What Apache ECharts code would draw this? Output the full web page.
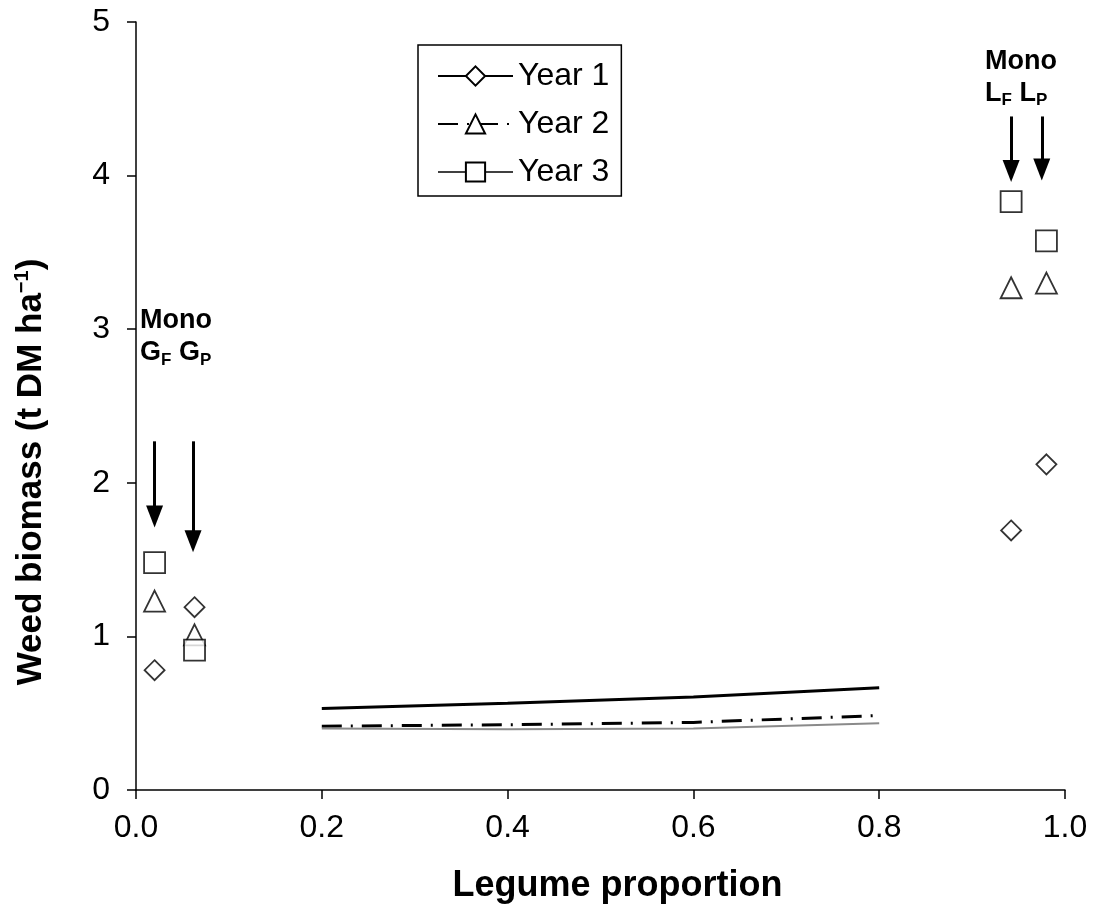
<!DOCTYPE html>
<html>
<head>
<meta charset="utf-8">
<script src="https://cdn.jsdelivr.net/npm/echarts@6/dist/echarts.min.js"></script>
<style>
  html, body { margin: 0; padding: 0; background: #fff; }
  #chart { width: 1094px; height: 909px; }
</style>
</head>
<body>
<div id="chart"></div>
<script>
const FONT = "'Liberation Sans', Arial, sans-serif";

// monoculture plots (x = legume proportion)
const monoX = [0.02, 0.063, 0.942, 0.98];
const year1Mono = [0.78, 1.19, 1.69, 2.12];
const year2Mono = [1.23, 1.01, 3.27, 3.30];
const year3Mono = [1.48, 0.91, 3.83, 3.575];

// fitted response over the mixtures
const curveX = [0.2, 0.4, 0.6, 0.8];
const year1Curve = [0.53, 0.565, 0.605, 0.665];
const year2Curve = [0.415, 0.425, 0.44, 0.485];
const year3Curve = [0.4, 0.395, 0.4, 0.435];

const xTicks = [0, 0.2, 0.4, 0.6, 0.8, 1.0];
const yTicks = [0, 1, 2, 3, 4, 5];

// arrows: [x, top, end of shaft]
const arrows = [
  [0.02, 2.27, 1.78],
  [0.0614, 2.27, 1.62],
  [0.942, 4.385, 4.03],
  [0.975, 4.385, 4.04],
];

// labels: [left x, centre y, letter, subscript 1, subscript 2]
const monoLabels = [
  [0.0043, 2.95, "G", "F", "P"],
  [0.914, 4.64, "L", "F", "P"],
];

const pairs = (xs, ys) => xs.map((x, i) => [x, ys[i]]);

const chart = echarts.init(document.getElementById("chart"), undefined, { renderer: "canvas" });

const hollow = { color: "#fff", borderColor: "#000", borderWidth: 1.8 };

function curveSeries(name, values, symbol, lineStyle) {
  return {
    name,
    type: "line",
    data: pairs(curveX, values),
    symbol,
    symbolSize: 20,
    showSymbol: false,
    itemStyle: hollow,
    lineStyle,
    silent: true,
    z: 2,
  };
}

function markerSeries(name, values, symbol, size) {
  return {
    name,
    type: "scatter",
    data: pairs(monoX, values),
    symbol,
    symbolSize: size,
    itemStyle: hollow,
    silent: true,
    z: 3,
  };
}

const arrowLines = arrows.map(([x, top, tip]) => [
  { coord: [x, top], symbol: "none" },
  { coord: [x, tip], symbol: "triangle", symbolSize: [17, 22] },
]);

const labelPoints = monoLabels.map(([x, y, g, a, b]) => ({
  coord: [x, y],
  label: {
    formatter: `{b|Mono}\n{b|${g}}{s|${a}}{b| ${g}}{s|${b}}`,
  },
}));

const markerYear1 = markerSeries("Year 1", year1Mono, "diamond", 20);
markerYear1.markLine = {
  silent: true,
  animation: false,
  lineStyle: { color: "#000", width: 3, type: "solid" },
  label: { show: false },
  data: arrowLines,
};
markerYear1.markPoint = {
  silent: true,
  animation: false,
  symbol: "rect",
  symbolSize: 0,
  itemStyle: { color: "transparent" },
  label: {
    show: true,
    position: "right",
    distance: 0,
    color: "#000",
    rich: {
      b: { fontFamily: FONT, fontSize: 27, fontWeight: "bold", lineHeight: 32, color: "#000" },
      s: { fontFamily: FONT, fontSize: 17, fontWeight: "bold", lineHeight: 16, verticalAlign: "bottom", color: "#000" },
    },
  },
  data: labelPoints,
};

chart.setOption({
  animation: false,
  backgroundColor: "#fff",
  textStyle: { fontFamily: FONT, color: "#000" },
  grid: { left: 136, right: 29, top: 22, bottom: 115, containLabel: false },
  legend: {
    orient: "vertical",
    left: 418,
    top: 45,
    padding: [14, 12, 7, 19],
    itemWidth: 75,
    itemHeight: 24,
    itemGap: 14,
    borderColor: "#000",
    borderWidth: 1.5,
    selectedMode: false,
    textStyle: { fontFamily: FONT, fontSize: 32, color: "#000", lineHeight: 34 },
    data: [
      { name: "Year 1" },
      { name: "Year 2" },
      { name: "Year 3", lineStyle: { color: "#000", width: 1.5 } },
    ],
  },
  xAxis: {
    type: "value",
    min: 0,
    max: 1,
    interval: 0.2,
    name: "Legume proportion",
    nameLocation: "middle",
    nameGap: 78,
    nameTextStyle: { fontFamily: FONT, fontSize: 36, fontWeight: "bold", color: "#000", padding: [0, 0, 0, 34] },
    axisLine: { onZero: false, lineStyle: { color: "#000", width: 1.5 } },
    axisTick: { inside: false, length: 9, lineStyle: { color: "#000", width: 1.5 } },
    axisLabel: {
      fontFamily: FONT,
      fontSize: 32,
      color: "#000",
      margin: 22,
      formatter: (v) => v.toFixed(1),
    },
    splitLine: { show: false },
  },
  yAxis: {
    type: "value",
    min: 0,
    max: 5,
    interval: 1,
    name: "Weed biomass (t DM ha{sup|−1})",
    nameLocation: "middle",
    nameGap: 86,
    nameRotate: 90,
    nameTextStyle: {
      fontFamily: FONT,
      fontSize: 35,
      fontWeight: "bold",
      color: "#000",
      padding: [0, 132, 0, 0],
      rich: {
        sup: { fontFamily: FONT, fontSize: 20, fontWeight: "bold", verticalAlign: "top", lineHeight: 38, color: "#000" },
      },
    },
    axisLine: { onZero: false, lineStyle: { color: "#000", width: 1.5 } },
    axisTick: { inside: false, length: 9, lineStyle: { color: "#000", width: 1.5 } },
    axisLabel: {
      fontFamily: FONT,
      fontSize: 32,
      color: "#000",
      margin: 26,
      formatter: (v) => String(v),
    },
    splitLine: { show: false },
  },
  series: [
    curveSeries("Year 1", year1Curve, "diamond", { color: "#000", width: 3, type: "solid" }),
    curveSeries("Year 2", year2Curve, "triangle", { color: "#000", width: 3, type: [20, 9, 2, 9] }),
    curveSeries("Year 3", year3Curve, "rect", { color: "#8a8a8a", width: 2, type: "solid" }),
    markerYear1,
    markerSeries("Year 2", year2Mono, "triangle", 21),
    markerSeries("Year 3", year3Mono, "rect", 21),
  ],
});
</script>
</body>
</html>
